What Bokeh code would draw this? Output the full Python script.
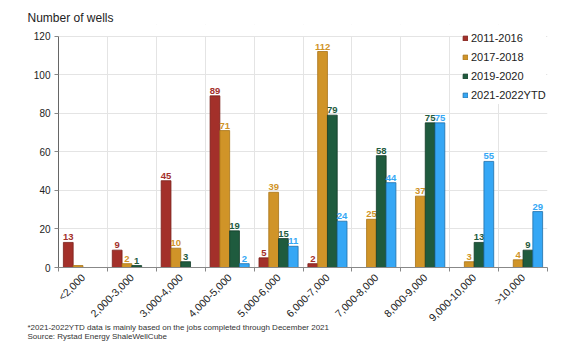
import numpy as np
from bokeh.plotting import figure
from bokeh.models import (ColumnDataSource, FixedTicker, Legend, LegendItem, Title,
                          Range1d)
from bokeh.transform import dodge
from bokeh.core.properties import value
from bokeh.embed import file_html
from bokeh.resources import INLINE

categories = ["<2,000", "2,000-3,000", "3,000-4,000", "4,000-5,000", "5,000-6,000",
              "6,000-7,000", "7,000-8,000", "8,000-9,000", "9,000-10,000", ">10,000"]
series_names = ["2011-2016", "2017-2018", "2019-2020", "2021-2022YTD"]
s2011_2016 = [13, 9, 45, 89, 5, 2, 0, 0, 0, 0]
s2017_2018 = [1, 2, 10, 71, 39, 112, 25, 37, 3, 4]
s2019_2020 = [0, 1, 3, 19, 15, 79, 58, 75, 13, 9]
s2021_2022 = [0, 0, 0, 2, 11, 24, 44, 75, 55, 29]
lab2011_2016 = ["13", "9", "45", "89", "5", "2", "", "", "", ""]
lab2017_2018 = ["", "2", "10", "71", "39", "112", "25", "37", "3", "4"]
lab2019_2020 = ["", "1", "3", "19", "15", "79", "58", "75", "13", "9"]
lab2021_2022 = ["", "", "", "2", "11", "24", "44", "75", "55", "29"]
y_ticks = [0, 20, 40, 60, 80, 100, 120]
y_max = 120

fill_colors = ["#A3302A", "#D09428", "#1F5B3E", "#35A7F5"]
line_colors = ["#7A1F1A", "#A87418", "#123A27", "#1E6FA8"]
label_colors = ["#A3302A", "#D09428", "#1F5B3E", "#35A7F5"]

xpos = list(np.arange(len(categories)) + 0.5)
src = ColumnDataSource(dict(x=xpos, a=s2011_2016, b=s2017_2018, c=s2019_2020, d=s2021_2022,
                            la=lab2011_2016, lb=lab2017_2018, lc=lab2019_2020, ld=lab2021_2022))

p = figure(width=573, height=346, output_backend="svg", toolbar_location=None,
           x_range=Range1d(0, len(categories)), y_range=Range1d(0, y_max * 1.05),
           min_border_left=58, min_border_right=26, min_border_top=24, min_border_bottom=79)
p.outline_line_color = None
p.background_fill_color = "white"

# white band above the top tick so vertical gridlines stop at 120
p.quad(left=0, right=len(categories), bottom=y_max, top=y_max * 1.05,
       fill_color="white", line_color=None)

cols = ["a", "b", "c", "d"]
labs = ["la", "lb", "lc", "ld"]
offsets = [-0.3, -0.1, 0.1, 0.3]
items = []
for i in range(4):
    r = p.vbar(x=dodge("x", offsets[i]), top=cols[i], width=0.2, bottom=0, source=src,
               fill_color=fill_colors[i], line_color=line_colors[i], line_width=0.8)
    items.append(LegendItem(label=series_names[i], renderers=[r]))
    p.text(x=dodge("x", offsets[i]), y=cols[i], text=labs[i], source=src,
           text_align="center", text_baseline="alphabetic", y_offset=-5,
           text_font=value("Liberation Sans"), text_font_style="bold",
           text_font_size="9.5px", text_color=label_colors[i])

# axes
xa = p.xaxis[0]
xa.ticker = FixedTicker(ticks=xpos, minor_ticks=list(range(len(categories) + 1)))
xa.major_label_overrides = {float(x): c for x, c in zip(xpos, categories)}
xa.major_label_orientation = np.pi / 4
xa.major_tick_line_color = None
xa.minor_tick_line_color = "#888888"
xa.minor_tick_in = 0
xa.minor_tick_out = 4
xa.axis_line_color = "#888888"
xa.major_label_text_font = "Liberation Sans"
xa.major_label_text_font_size = "10.5px"
xa.major_label_text_color = "#222222"
xa.major_label_standoff = 2

ya = p.yaxis[0]
ya.ticker = FixedTicker(ticks=y_ticks)
ya.bounds = (0, y_max)
ya.minor_tick_line_color = None
ya.major_tick_in = 0
ya.major_tick_out = 4
ya.major_tick_line_color = "#888888"
ya.axis_line_color = "#666666"
ya.major_label_text_font = "Liberation Sans"
ya.major_label_text_font_size = "10px"
ya.major_label_text_color = "#222222"
ya.major_label_standoff = 4

p.xgrid[0].ticker = FixedTicker(ticks=list(range(len(categories) + 1)))
p.xgrid[0].grid_line_color = "#E4E4E4"
p.ygrid[0].ticker = FixedTicker(ticks=y_ticks)
p.ygrid[0].grid_line_color = "#E4E4E4"

legend = Legend(items=items, location=(404, 163), orientation="vertical",
                glyph_width=6, glyph_height=6, label_standoff=3, label_height=19,
                spacing=0, padding=3, margin=0, border_line_color=None,
                background_fill_color="white", background_fill_alpha=1.0,
                label_text_font="Liberation Sans", label_text_font_size="11px",
                label_text_color="#222222")
p.add_layout(legend, "center")

p.add_layout(Title(text="*2021-2022YTD data is mainly based on the jobs completed through December 2021\n"
                        "Source: Rystad Energy ShaleWellCube",
                   text_font="Liberation Sans", text_font_size="8px", text_font_style="normal",
                   text_color="#333333", align="left", offset=-31, standoff=-20), "below")
p.add_layout(Title(text=" ", text_font_size="1px", standoff=12), "below")
p.add_layout(Title(text="Number of wells", text_font="Liberation Sans", text_font_size="12px",
                   text_font_style="normal", text_color="#222222", align="left",
                   offset=-31, standoff=0), "above")

open("out.html", "w").write(file_html(p, INLINE))
